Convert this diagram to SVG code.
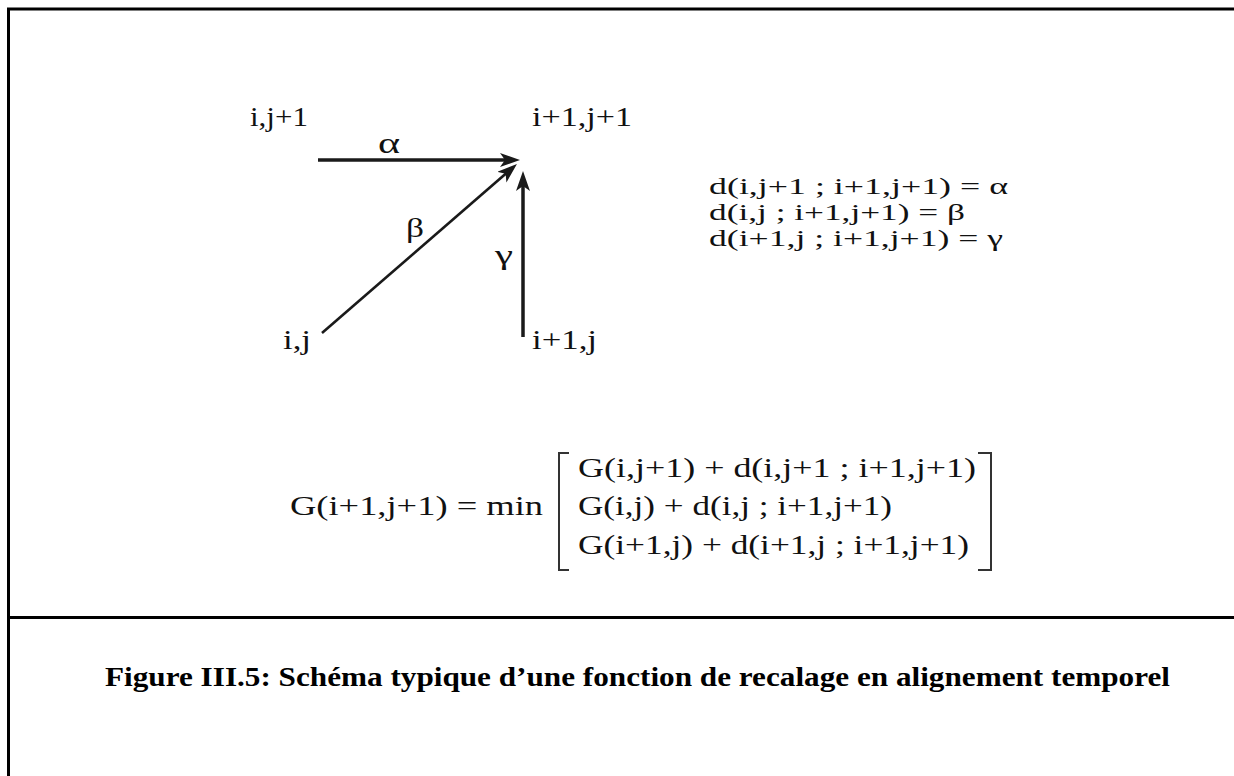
<svg xmlns="http://www.w3.org/2000/svg" width="1234" height="776" viewBox="0 0 1234 776">
<style>
.lbl{font-family:"Liberation Serif","Times New Roman",serif;fill:#111;}
.cap{font-family:"Liberation Serif","Times New Roman",serif;font-weight:bold;fill:#000;}
.frame{stroke:#000;stroke-width:3;fill:none;}
.arr{stroke:#1a1a1a;fill:none;}
.brk{stroke:#333;stroke-width:2;fill:none;}
</style>
<defs>
<marker id="ah" markerUnits="userSpaceOnUse" markerWidth="22" markerHeight="16" refX="10" refY="7" orient="auto">
<path d="M0,0 L20,7 L0,14 L5,7 z" fill="#1a1a1a"/>
</marker>
</defs>
<rect width="1234" height="776" fill="#fff"/>
<g id="frame">
<path class="frame" d="M8.5,776 L8.5,9 L1234,9"/>
<path class="frame" d="M8.5,617.5 L1234,617.5"/>
</g>
<g id="connectors">
<line class="arr" x1="318" y1="160" x2="510" y2="160" stroke-width="3.5" marker-end="url(#ah)"/>
<line class="arr" x1="322" y1="333" x2="509.4" y2="170.6" stroke-width="2.6" marker-end="url(#ah)"/>
<line class="arr" x1="523" y1="337" x2="523" y2="181" stroke-width="3.5" marker-end="url(#ah)"/>
</g>
<g id="node-ij1"><text class="lbl" x="250" y="126" font-size="27" textLength="58" lengthAdjust="spacingAndGlyphs">i,j+1</text></g>
<g id="node-i1j1"><text class="lbl" x="532" y="126" font-size="27" textLength="100" lengthAdjust="spacingAndGlyphs">i+1,j+1</text></g>
<g id="node-ij"><text class="lbl" x="283" y="349" font-size="27" textLength="28" lengthAdjust="spacingAndGlyphs">i,j</text></g>
<g id="node-i1j"><text class="lbl" x="532" y="349" font-size="27" textLength="65" lengthAdjust="spacingAndGlyphs">i+1,j</text></g>
<g id="edge-labels">
<text class="lbl" x="378" y="153" font-size="30" textLength="22" lengthAdjust="spacingAndGlyphs">α</text>
<text class="lbl" x="406" y="237" font-size="28" textLength="18" lengthAdjust="spacingAndGlyphs">β</text>
<text class="lbl" x="495" y="264" font-size="28" textLength="18" lengthAdjust="spacingAndGlyphs">γ</text>
</g>
<g id="distances">
<text class="lbl" x="709" y="194" font-size="24" textLength="299" lengthAdjust="spacingAndGlyphs">d(i,j+1 ; i+1,j+1) = α</text>
<text class="lbl" x="709" y="220" font-size="24" textLength="256" lengthAdjust="spacingAndGlyphs">d(i,j ; i+1,j+1) = β</text>
<text class="lbl" x="709" y="246" font-size="24" textLength="294" lengthAdjust="spacingAndGlyphs">d(i+1,j ; i+1,j+1) = γ</text>
</g>
<g id="recurrence">
<text class="lbl" x="290" y="515" font-size="28" textLength="253" lengthAdjust="spacingAndGlyphs">G(i+1,j+1) = min</text>
<path class="brk" d="M569,453 L559,453 L559,570 L569,570"/>
<path class="brk" d="M978,453 L991,453 L991,570 L978,570"/>
<text class="lbl" x="578" y="477" font-size="28" textLength="398" lengthAdjust="spacingAndGlyphs">G(i,j+1) + d(i,j+1 ; i+1,j+1)</text>
<text class="lbl" x="578" y="515" font-size="28" textLength="314" lengthAdjust="spacingAndGlyphs">G(i,j) + d(i,j ; i+1,j+1)</text>
<text class="lbl" x="578" y="554" font-size="28" textLength="391" lengthAdjust="spacingAndGlyphs">G(i+1,j) + d(i+1,j ; i+1,j+1)</text>
</g>
<g id="caption">
<text class="cap" x="105" y="686" font-size="28" textLength="1065" lengthAdjust="spacingAndGlyphs">Figure III.5: Schéma typique d’une fonction de recalage en alignement temporel</text>
</g>
</svg>
